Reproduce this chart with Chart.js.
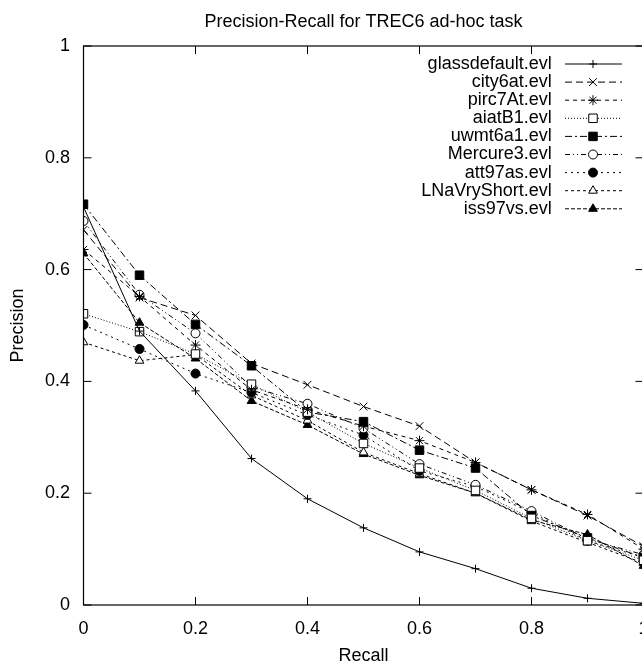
<!DOCTYPE html>
<html>
<head>
<meta charset="utf-8">
<script src="https://cdn.jsdelivr.net/npm/chart.js@4/dist/chart.umd.min.js"></script>
<style>
  html, body { margin: 0; padding: 0; background: #fff; overflow: hidden; }
  #wrap { width: 642px; height: 662px; overflow: hidden; }
</style>
</head>
<body>
<div id="wrap"><canvas id="myChart" width="727" height="662"></canvas></div>
<script>
// recall levels (x)
var recall = [0, 0.1, 0.2, 0.3, 0.4, 0.5, 0.6, 0.7, 0.8, 0.9, 1.0];
var xTicks = [0, 0.2, 0.4, 0.6, 0.8, 1];
var yTicks = [0, 0.2, 0.4, 0.6, 0.8, 1];

var seriesNames = ['glassdefault.evl', 'city6at.evl', 'pirc7At.evl', 'aiatB1.evl', 'uwmt6a1.evl',
                   'Mercure3.evl', 'att97as.evl', 'LNaVryShort.evl', 'iss97vs.evl'];

// precision at each recall level
var glassdefault = [0.712, 0.490, 0.383, 0.262, 0.190, 0.138, 0.095, 0.065, 0.030, 0.012, 0.003];
var city6at      = [0.671, 0.550, 0.518, 0.432, 0.394, 0.355, 0.320, 0.255, 0.206, 0.160, 0.105];
var pirc7At      = [0.636, 0.552, 0.465, 0.385, 0.350, 0.320, 0.294, 0.255, 0.206, 0.162, 0.100];
var aiatB1       = [0.521, 0.489, 0.449, 0.395, 0.345, 0.289, 0.245, 0.205, 0.155, 0.115, 0.080];
var uwmt6a1      = [0.717, 0.590, 0.502, 0.428, 0.345, 0.328, 0.277, 0.245, 0.160, 0.120, 0.085];
var Mercure3     = [0.687, 0.555, 0.486, 0.390, 0.360, 0.316, 0.252, 0.215, 0.168, 0.118, 0.090];
var att97as      = [0.501, 0.458, 0.414, 0.380, 0.340, 0.304, 0.240, 0.212, 0.165, 0.115, 0.085];
var LNaVryShort  = [0.470, 0.437, 0.448, 0.375, 0.330, 0.273, 0.235, 0.200, 0.150, 0.112, 0.075];
var iss97vs      = [0.629, 0.505, 0.441, 0.365, 0.322, 0.270, 0.232, 0.200, 0.152, 0.126, 0.070];

var seriesValues = [glassdefault, city6at, pirc7At, aiatB1, uwmt6a1, Mercure3, att97as, LNaVryShort, iss97vs];

// gnuplot-ish look for each series
var looks = [
  { dash: [],                 point: 'cross',    fill: false, r: 4 },
  { dash: [7, 4],             point: 'crossRot', fill: false, r: 5.5 },
  { dash: [4, 4],             point: 'star',     fill: false, r: 5 },
  { dash: [1, 2],             point: 'rect',     fill: false, r: 6 },
  { dash: [7, 3, 2, 3],       point: 'rect',     fill: true,  r: 6 },
  { dash: [5, 3, 1, 3, 1, 3], point: 'circle',   fill: false, r: 4.5 },
  { dash: [2, 4],             point: 'circle',   fill: true,  r: 4.5 },
  { dash: [3, 3],             point: 'triangle', fill: false, r: 5 },
  { dash: [4, 2],             point: 'triangle', fill: true,  r: 5 }
];

var FONT = "'Liberation Sans', Arial, sans-serif";
var AREA = { left: 83.5, top: 46, right: 643.5, bottom: 605 };
var W = 727, H = 662;

function fmt(v) { return String(+Number(v).toFixed(1)); }

var datasets = seriesNames.map(function(name, i) {
  var lk = looks[i];
  return {
    label: name,
    data: recall.map(function(r, j) { return { x: r, y: seriesValues[i][j] }; }),
    borderColor: '#000',
    borderWidth: 1,
    borderDash: lk.dash,
    pointStyle: lk.point,
    pointRadius: lk.r,
    pointBorderWidth: 1,
    pointBorderColor: '#000',
    pointBackgroundColor: lk.fill ? '#000' : '#fff',
    fill: false,
    tension: 0
  };
});

// frame, inward ticks, titles and the gnuplot style key
var gnuplotDeco = {
  id: 'gnuplotDeco',
  afterDraw: function(chart) {
    var ctx = chart.ctx;
    var a = chart.chartArea;
    var xs = chart.scales.x, ys = chart.scales.y;
    ctx.save();
    ctx.strokeStyle = '#000';
    ctx.lineWidth = 1.2;
    ctx.setLineDash([]);
    ctx.strokeRect(a.left, a.top, a.right - a.left, a.bottom - a.top);

    ctx.lineWidth = 1;
    var tl = 8;
    xTicks.forEach(function(v) {
      var px = xs.getPixelForValue(v);
      ctx.beginPath();
      ctx.moveTo(px, a.bottom); ctx.lineTo(px, a.bottom - tl);
      ctx.moveTo(px, a.top); ctx.lineTo(px, a.top + tl);
      ctx.stroke();
    });
    yTicks.forEach(function(v) {
      var py = ys.getPixelForValue(v);
      ctx.beginPath();
      ctx.moveTo(a.left, py); ctx.lineTo(a.left + tl, py);
      ctx.moveTo(a.right, py); ctx.lineTo(a.right - tl, py);
      ctx.stroke();
    });

    ctx.fillStyle = '#000';
    ctx.font = '18px ' + FONT;
    ctx.textAlign = 'center';
    ctx.textBaseline = 'middle';
    ctx.fillText('Precision-Recall for TREC6 ad-hoc task', (a.left + a.right) / 2, 22);
    ctx.textBaseline = 'alphabetic';
    ctx.fillText('Recall', (a.left + a.right) / 2, 661);
    ctx.save();
    ctx.translate(18, (a.top + a.bottom) / 2);
    ctx.rotate(-Math.PI / 2);
    ctx.textBaseline = 'middle';
    ctx.fillText('Precision', 0, 0);
    ctx.restore();

    // key
    chart.data.datasets.forEach(function(ds, i) {
      var y = 64 + i * 18.1;
      ctx.fillStyle = '#000';
      ctx.textAlign = 'right';
      ctx.textBaseline = 'middle';
      ctx.fillText(ds.label, 551.7, y);
      ctx.beginPath();
      ctx.setLineDash(ds.borderDash);
      ctx.moveTo(565, y); ctx.lineTo(622, y);
      ctx.stroke();
      ctx.setLineDash([]);
      ctx.fillStyle = ds.pointBackgroundColor;
      ctx.strokeStyle = '#000';
      Chart.helpers.drawPoint(ctx, { pointStyle: ds.pointStyle, radius: ds.pointRadius, rotation: 0, borderWidth: 1 }, 593, y);
    });
    ctx.restore();
  }
};

var ctx = document.getElementById('myChart').getContext('2d');
new Chart(ctx, {
  type: 'line',
  data: { datasets: datasets },
  options: {
    responsive: false,
    animation: false,
    devicePixelRatio: 1,
    layout: { padding: { left: 0, top: AREA.top, right: W - AREA.right, bottom: 0 } },
    plugins: { legend: { display: false }, title: { display: false }, tooltip: { enabled: false } },
    scales: {
      x: {
        type: 'linear',
        min: 0, max: 1,
        afterBuildTicks: function(s) { s.ticks = xTicks.map(function(v) { return { value: v }; }); },
        afterFit: function(s) { s.height = H - AREA.bottom; },
        grid: { display: false, drawTicks: false },
        border: { display: false },
        ticks: { color: '#000', font: { family: FONT, size: 18 }, padding: 13, maxRotation: 0, autoSkip: false, callback: fmt }
      },
      y: {
        type: 'linear',
        min: 0, max: 1,
        afterBuildTicks: function(s) { s.ticks = yTicks.map(function(v) { return { value: v }; }); },
        afterFit: function(s) { s.width = AREA.left; },
        grid: { display: false, drawTicks: false },
        border: { display: false },
        ticks: { color: '#000', font: { family: FONT, size: 18 }, padding: 13.5, callback: fmt }
      }
    }
  },
  plugins: [gnuplotDeco]
});
</script>
</body>
</html>
